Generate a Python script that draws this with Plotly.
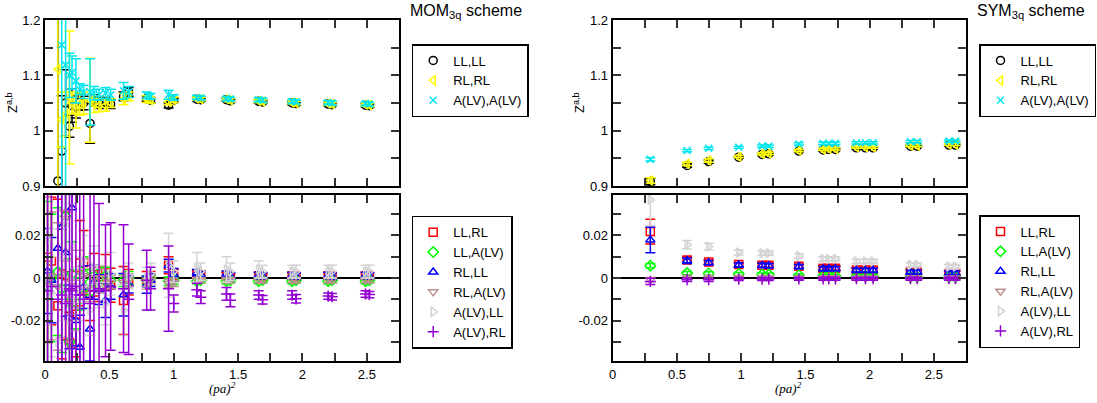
import plotly.graph_objects as go

# ---------------- data ----------------
x_mom = [0.02, 0.05, 0.10, 0.13, 0.16, 0.19, 0.21, 0.24, 0.27, 0.30, 0.35, 0.38, 0.42, 0.47, 0.51,
         0.61, 0.65, 0.79, 0.82, 0.96, 1.00, 1.18, 1.21, 1.41, 1.44, 1.66, 1.69, 1.92, 1.95, 2.20, 2.23, 2.49, 2.52]

mom_ll_ll = [None, None, 0.909, 0.963, 1.050, 1.008, 1.045, 1.043, 1.052, 1.050, 1.013, 1.055, 1.050, 1.052, 1.048,
             1.062, 1.070, 1.058, 1.055, 1.046, 1.055, 1.057, 1.056, 1.056, 1.054, 1.053, 1.052, 1.050, 1.049, 1.048, 1.047, 1.046, 1.045]
mom_ll_ll_err = [None, None, 0.35, 0.10, 0.06, 0.02, 0.03, 0.02, 0.015, 0.012, 0.036, 0.01, 0.01, 0.008, 0.008,
                 0.008, 0.008, 0.005, 0.005, 0.005, 0.004, 0.003, 0.003, 0.003, 0.003, 0.003, 0.003, 0.003, 0.003, 0.003, 0.003, 0.003, 0.003]
mom_rl_rl = [None, None, 1.111, 1.020, 1.030, 1.060, 1.050, 1.035, 1.048, 1.050, 1.055, 1.048, 1.046, 1.045, 1.050,
             1.057, 1.062, 1.057, 1.055, 1.052, 1.056, 1.058, 1.057, 1.057, 1.055, 1.054, 1.053, 1.051, 1.050, 1.049, 1.048, 1.047, 1.046]
mom_rl_rl_err = [None, None, 0.30, 0.05, 0.04, 0.12, 0.02, 0.03, 0.02, 0.02, 0.076, 0.015, 0.012, 0.01, 0.008,
                 0.01, 0.008, 0.006, 0.005, 0.005, 0.005, 0.003, 0.003, 0.003, 0.003, 0.003, 0.003, 0.003, 0.003, 0.003, 0.003, 0.003, 0.003]
mom_a_a = [None, None, None, 1.155, 1.119, 1.100, 1.105, 1.090, 1.075, 1.070, 1.070, 1.068, 1.065, 1.068, 1.065,
           1.072, 1.070, 1.064, 1.062, 1.065, 1.060, 1.060, 1.059, 1.058, 1.057, 1.056, 1.055, 1.053, 1.052, 1.051, 1.050, 1.049, 1.048]
mom_a_a_err = [None, None, None, 0.30, 0.25, 0.04, 0.03, 0.04, 0.01, 0.012, 0.06, 0.012, 0.01, 0.01, 0.01,
               0.015, 0.01, 0.006, 0.005, 0.008, 0.005, 0.003, 0.003, 0.003, 0.003, 0.003, 0.003, 0.003, 0.003, 0.003, 0.003, 0.003, 0.003]

mom_ll_rl = [0.0097, 0.008, -0.013, 0.002, 0.001, -0.018, -0.031, -0.017, 0.007, 0.0073, -0.008, 0.0015, -0.003, 0.003, -0.0034,
             -0.0106, -0.002, -0.001, 0.0, 0.006, 0.001, 0.002, 0.0015, 0.001, 0.0005, 0.001, 0.0005, 0.001, 0.0008, 0.001, 0.0008, 0.001, 0.0008]
mom_ll_rl_err = [0.04, 0.03, 0.05, 0.04, 0.03, 0.013, 0.02, 0.02, 0.02, 0.015, 0.012, 0.01, 0.008, 0.008, 0.008,
                 0.016, 0.006, 0.004, 0.003, 0.004, 0.003, 0.0015, 0.0015, 0.0015, 0.0015, 0.0015, 0.0015, 0.0015, 0.0015, 0.0015, 0.0015, 0.0015, 0.0015]
mom_ll_a = [-0.004, 0.0, 0.003, -0.005, 0.029, -0.030, 0.002, -0.012, -0.005, 0.002, -0.002, 0.001, 0.0, 0.001, -0.001,
            -0.001, 0.0, -0.001, 0.0, -0.0015, -0.001, -0.0015, -0.001, -0.0015, -0.001, -0.0015, -0.001, -0.0015, -0.001, -0.0015, -0.001, -0.0015, -0.001]
mom_ll_a_err = [0.04, 0.03, 0.03, 0.03, 0.02, 0.02, 0.015, 0.012, 0.01, 0.008, 0.006, 0.005, 0.004, 0.004, 0.003,
                0.003, 0.003, 0.002, 0.002, 0.002, 0.002, 0.0012, 0.0012, 0.0012, 0.0012, 0.0012, 0.0012, 0.0012, 0.0012, 0.0012, 0.0012, 0.0012, 0.0012]
mom_rl_ll = [0.0033, -0.001, 0.014, 0.0239, 0.012, -0.0183, 0.033, -0.020, -0.0325, -0.0043, -0.024, -0.002, -0.0055, -0.0106, -0.004,
             -0.0079, -0.003, -0.0032, -0.001, 0.0058, 0.0015, 0.0025, 0.0015, 0.0018, 0.001, 0.0012, 0.001, 0.0012, 0.0008, 0.0012, 0.0008, 0.0012, 0.001]
mom_rl_ll_err = [0.02, 0.02, 0.08, 0.08, 0.03, 0.015, 0.08, 0.012, 0.015, 0.01, 0.015, 0.008, 0.007, 0.008, 0.006,
                 0.01, 0.004, 0.004, 0.003, 0.003, 0.003, 0.0015, 0.0015, 0.0015, 0.0015, 0.0015, 0.0015, 0.0015, 0.0015, 0.0015, 0.0015, 0.0015, 0.0015]
mom_rl_a = [-0.002, 0.001, -0.004, 0.002, 0.028, -0.029, -0.002, -0.013, 0.003, 0.001, -0.005, 0.0, -0.003, 0.0, -0.002,
            -0.002, -0.001, -0.002, -0.001, -0.0025, -0.002, -0.001, -0.001, -0.001, -0.001, -0.001, -0.001, -0.001, -0.001, -0.001, -0.001, -0.001, -0.001]
mom_rl_a_err = [0.04, 0.03, 0.03, 0.03, 0.02, 0.02, 0.015, 0.012, 0.01, 0.008, 0.006, 0.005, 0.004, 0.004, 0.003,
                0.003, 0.003, 0.002, 0.002, 0.002, 0.002, 0.0012, 0.0012, 0.0012, 0.0012, 0.0012, 0.0012, 0.0012, 0.0012, 0.0012, 0.0012, 0.0012, 0.0012]
mom_a_ll = [0.018, -0.007, -0.030, 0.010, 0.025, -0.020, 0.015, -0.010, -0.005, 0.008, -0.015, 0.005, -0.004, -0.012, 0.002,
            -0.015, 0.001, 0.0, 0.002, 0.006, 0.003, 0.005, 0.003, 0.004, 0.003, 0.004, 0.003, 0.003, 0.003, 0.003, 0.003, 0.003, 0.003]
mom_a_ll_err = [0.04, 0.03, 0.04, 0.03, 0.03, 0.02, 0.02, 0.015, 0.015, 0.012, 0.012, 0.01, 0.01, 0.01, 0.01,
                0.012, 0.006, 0.005, 0.005, 0.015, 0.005, 0.007, 0.004, 0.006, 0.004, 0.004, 0.003, 0.003, 0.003, 0.003, 0.003, 0.003, 0.003]
mom_a_rl = [-0.006, -0.004, -0.010, -0.008, -0.012, -0.005, -0.006, -0.004, -0.008, -0.010, -0.012, -0.006, -0.005, -0.006, -0.004,
            -0.005, -0.010, -0.001, -0.005, -0.005, -0.012, -0.0055, -0.009, -0.0075, -0.0105, -0.008, -0.0102, -0.008, -0.0098, -0.0085, -0.0088, -0.0075, -0.0078]
mom_a_rl_err = [0.10, 0.10, 0.05, 0.05, 0.06, 0.05, 0.05, 0.05, 0.06, 0.05, 0.06, 0.05, 0.04, 0.031, 0.03,
                0.03, 0.026, 0.014, 0.01, 0.02, 0.004, 0.003, 0.003, 0.003, 0.003, 0.002, 0.002, 0.002, 0.002, 0.0015, 0.0015, 0.0015, 0.0015]

x_sym = [0.293, 0.579, 0.747, 0.981, 1.163, 1.215, 1.449, 1.638, 1.682, 1.734, 1.897, 1.967, 2.027, 2.318, 2.370, 2.617, 2.668]

sym_ll_ll = [0.908, 0.937, 0.944, 0.952, 0.957, 0.958, 0.963, 0.965, 0.966, 0.966, 0.969, 0.969, 0.969, 0.972, 0.972, 0.974, 0.974]
sym_ll_ll_err = [0.006, 0.003, 0.003, 0.002, 0.002, 0.002, 0.002, 0.002, 0.002, 0.002, 0.002, 0.002, 0.002, 0.002, 0.002, 0.002, 0.002]
sym_rl_rl = [0.910, 0.940, 0.946, 0.953, 0.958, 0.959, 0.964, 0.966, 0.967, 0.967, 0.970, 0.970, 0.970, 0.973, 0.973, 0.975, 0.975]
sym_rl_rl_err = [0.005, 0.003, 0.003, 0.002, 0.002, 0.002, 0.002, 0.002, 0.002, 0.002, 0.002, 0.002, 0.002, 0.002, 0.002, 0.002, 0.002]
sym_a_a = [0.948, 0.964, 0.968, 0.970, 0.972, 0.972, 0.976, 0.977, 0.977, 0.977, 0.978, 0.978, 0.978, 0.980, 0.980, 0.981, 0.981]
sym_a_a_err = [0.003, 0.002, 0.002, 0.002, 0.002, 0.002, 0.002, 0.002, 0.002, 0.002, 0.002, 0.002, 0.002, 0.002, 0.002, 0.002, 0.002]

sym_ll_rl = [0.0218, 0.0085, 0.0075, 0.0063, 0.0060, 0.0060, 0.0055, 0.0046, 0.0046, 0.0046, 0.0038, 0.0038, 0.0038, 0.0030, 0.0030, 0.0025, 0.0025]
sym_ll_rl_err = [0.0058, 0.0015, 0.001, 0.001, 0.001, 0.001, 0.001, 0.001, 0.001, 0.001, 0.001, 0.001, 0.001, 0.001, 0.001, 0.001, 0.001]
sym_ll_a = [0.0058, 0.0023, 0.0021, 0.0019, 0.0016, 0.0016, 0.0013, 0.0010, 0.0010, 0.0010, 0.0008, 0.0008, 0.0008, 0.0005, 0.0005, 0.0004, 0.0004]
sym_ll_a_err = [0.001, 0.0008, 0.0008, 0.0007, 0.0007, 0.0007, 0.0006, 0.0006, 0.0006, 0.0006, 0.0006, 0.0006, 0.0006, 0.0006, 0.0006, 0.0006, 0.0006]
sym_rl_ll = [0.0179, 0.0081, 0.0072, 0.0061, 0.0059, 0.0058, 0.0054, 0.0044, 0.0044, 0.0044, 0.0036, 0.0036, 0.0036, 0.0028, 0.0028, 0.0023, 0.0023]
sym_rl_ll_err = [0.006, 0.0013, 0.001, 0.001, 0.001, 0.001, 0.001, 0.001, 0.001, 0.001, 0.001, 0.001, 0.001, 0.001, 0.001, 0.001, 0.001]
sym_rl_a = [-0.0008, 0.0002, 0.0002, 0.0002, 0.0001, 0.0001, 0.0001, 0.0001, 0.0001, 0.0001, 0.0, 0.0, 0.0, 0.0, 0.0, 0.0, 0.0]
sym_rl_a_err = [0.001, 0.0006, 0.0006, 0.0005, 0.0005, 0.0005, 0.0005, 0.0005, 0.0005, 0.0005, 0.0005, 0.0005, 0.0005, 0.0005, 0.0005, 0.0005, 0.0005]
sym_a_ll = [0.0367, 0.0156, 0.0148, 0.0120, 0.0117, 0.0117, 0.0104, 0.0090, 0.0090, 0.0090, 0.0078, 0.0078, 0.0078, 0.0062, 0.0062, 0.0054, 0.0054]
sym_a_ll_err = [0.012, 0.002, 0.0015, 0.0012, 0.001, 0.001, 0.001, 0.001, 0.001, 0.001, 0.001, 0.001, 0.001, 0.001, 0.001, 0.001, 0.001]
sym_a_rl = [-0.0016, -0.0008, -0.0008, -0.0005, -0.0005, -0.0005, -0.0004, -0.0004, -0.0004, -0.0004, -0.0003, -0.0003, -0.0003, -0.0003, -0.0003, -0.0003, -0.0003]
sym_a_rl_err = [0.0015, 0.0008, 0.0008, 0.0007, 0.0007, 0.0007, 0.0007, 0.0007, 0.0007, 0.0007, 0.0007, 0.0007, 0.0007, 0.0007, 0.0007, 0.0007, 0.0007]

labels_top = ["LL,LL", "RL,RL", "A(LV),A(LV)"]
labels_bot = ["LL,RL", "LL,A(LV)", "RL,LL", "RL,A(LV)", "A(LV),LL", "A(LV),RL"]
x_ticks = [0, 0.5, 1, 1.5, 2, 2.5]

# ---------------- styles ----------------
top_styles = [("circle-open", "#000000", 8), ("triangle-left-open", "#ffff00", 8), ("x-thin-open", "#00e5ee", 7)]
bot_styles = [("square-open", "#ff0000", 8), ("diamond-open", "#00ff00", 8), ("triangle-up-open", "#0000ff", 8),
              ("triangle-down-open", "#bc8f8f", 8), ("triangle-right-open", "#d3d3d3", 8), ("cross-thin-open", "#9400d3", 8)]

FONT = "Liberation Sans, Arial, Helvetica, sans-serif"

fig = go.Figure()


def add(x, y, e, label, style, xa, ya, leg, show):
    sym, col, size = style
    fig.add_trace(go.Scatter(
        x=x, y=y, mode="markers", name=label,
        marker=dict(symbol=sym, color=col, size=size, line=dict(color=col, width=1.5)),
        error_y=dict(type="data", array=e, color=col, thickness=1.5, width=5, visible=True),
        xaxis=xa, yaxis=ya, legend=leg, showlegend=show))


mom_top = [(mom_ll_ll, mom_ll_ll_err), (mom_rl_rl, mom_rl_rl_err), (mom_a_a, mom_a_a_err)]
mom_bot = [(mom_ll_rl, mom_ll_rl_err), (mom_ll_a, mom_ll_a_err), (mom_rl_ll, mom_rl_ll_err),
           (mom_rl_a, mom_rl_a_err), (mom_a_ll, mom_a_ll_err), (mom_a_rl, mom_a_rl_err)]
sym_top = [(sym_ll_ll, sym_ll_ll_err), (sym_rl_rl, sym_rl_rl_err), (sym_a_a, sym_a_a_err)]
sym_bot = [(sym_ll_rl, sym_ll_rl_err), (sym_ll_a, sym_ll_a_err), (sym_rl_ll, sym_rl_ll_err),
           (sym_rl_a, sym_rl_a_err), (sym_a_ll, sym_a_ll_err), (sym_a_rl, sym_a_rl_err)]

for (y, e), lab, st in zip(mom_top, labels_top, top_styles):
    add(x_mom, y, e, lab, st, "x", "y", "legend", True)
for (y, e), lab, st in zip(mom_bot, labels_bot, bot_styles):
    add(x_mom, y, e, lab, st, "x2", "y2", "legend2", True)
for (y, e), lab, st in zip(sym_top, labels_top, top_styles):
    add(x_sym, y, e, lab, st, "x3", "y3", "legend3", True)
for (y, e), lab, st in zip(sym_bot, labels_bot, bot_styles):
    add(x_sym, y, e, lab, st, "x4", "y4", "legend4", True)

W, H = 1097, 403


def px_x(p):
    return p / W


def px_y(p):
    return (H - p) / H


left_dom = [px_x(45), px_x(399)]
right_dom = [px_x(612.7), px_x(966)]
top_dom = [px_y(186), px_y(20)]
bot_dom = [px_y(361), px_y(195)]

axis_common = dict(showline=True, linecolor="black", linewidth=2, mirror="allticks",
                   ticks="inside", ticklen=8, tickwidth=1.5, tickcolor="#333333",
                   showgrid=False, zeroline=False, automargin=False,
                   tickfont=dict(family=FONT, size=13, color="black"))


def xax(dom, anchor, labels):
    return dict(axis_common, domain=dom, anchor=anchor, range=[0, 2.75],
                tickvals=x_ticks, ticktext=[str(v) for v in x_ticks], showticklabels=labels,
                minor=dict(ticks="inside", ticklen=8, tickwidth=1.5, tickcolor="#333333", dtick=0.25, tick0=0))


def yax_top(dom, anchor):
    return dict(axis_common, domain=dom, anchor=anchor, range=[0.8999, 1.2001],
                tickvals=[0.9, 1.0, 1.1, 1.2], ticktext=["0.9", "1", "1.1", "1.2"],
                minor=dict(ticks="inside", ticklen=8, tickwidth=1.5, tickcolor="#333333", dtick=0.05, tick0=0.9))


def yax_bot(dom, anchor):
    return dict(axis_common, domain=dom, anchor=anchor, range=[-0.039, 0.039],
                tickvals=[-0.02, 0, 0.02], ticktext=["-0.02", "0", "0.02"],
                zeroline=True, zerolinecolor="black", zerolinewidth=2,
                minor=dict(ticks="inside", ticklen=8, tickwidth=1.5, tickcolor="#333333", dtick=0.01, tick0=0))


legend_common = dict(bgcolor="white", bordercolor="black", borderwidth=1.5,
                     font=dict(family=FONT, size=13, color="black"),
                     xanchor="left", yanchor="top", tracegroupgap=0, itemwidth=30)

fig.update_layout(
    width=W, height=H, margin=dict(l=0, r=0, t=0, b=0, autoexpand=False),
    paper_bgcolor="white", plot_bgcolor="white",
    xaxis=xax(left_dom, "y", False), yaxis=yax_top(top_dom, "x"),
    xaxis2=xax(left_dom, "y2", True), yaxis2=yax_bot(bot_dom, "x2"),
    xaxis3=xax(right_dom, "y3", False), yaxis3=yax_top(top_dom, "x3"),
    xaxis4=xax(right_dom, "y4", True), yaxis4=yax_bot(bot_dom, "x4"),
    legend=dict(legend_common, x=px_x(411.7), y=px_y(44)),
    legend2=dict(legend_common, x=px_x(411.7), y=px_y(215.7)),
    legend3=dict(legend_common, x=px_x(979), y=px_y(44)),
    legend4=dict(legend_common, x=px_x(979), y=px_y(215)),
    showlegend=True,
)

annots = [
    dict(text="MOM<sub>3q</sub> scheme", x=px_x(466), y=1.0, yanchor="top", xanchor="center", yshift=0,
         font=dict(family=FONT, size=16, color="black")),
    dict(text="SYM<sub>3q</sub> scheme", x=px_x(1031), y=1.0, yanchor="top", xanchor="center", yshift=0,
         font=dict(family=FONT, size=16, color="black")),
    dict(text="Z<sup>a,b</sup>", x=px_x(12), y=px_y(103), textangle=-90, xanchor="center", yanchor="middle",
         font=dict(family=FONT, size=13, color="black")),
    dict(text="Z<sup>a,b</sup>", x=px_x(579), y=px_y(103), textangle=-90, xanchor="center", yanchor="middle",
         font=dict(family=FONT, size=13, color="black")),
    dict(text="<i>(pa)<sup>2</sup></i>", x=px_x(222), y=px_y(388), xanchor="center", yanchor="middle",
         font=dict(family="Liberation Serif, Times New Roman, serif", size=13, color="black")),
    dict(text="<i>(pa)<sup>2</sup></i>", x=px_x(788), y=px_y(388), xanchor="center", yanchor="middle",
         font=dict(family="Liberation Serif, Times New Roman, serif", size=13, color="black")),
]
for a in annots:
    a.update(xref="paper", yref="paper", showarrow=False)
fig.update_layout(annotations=annots)

fig.write_html("out.html")
